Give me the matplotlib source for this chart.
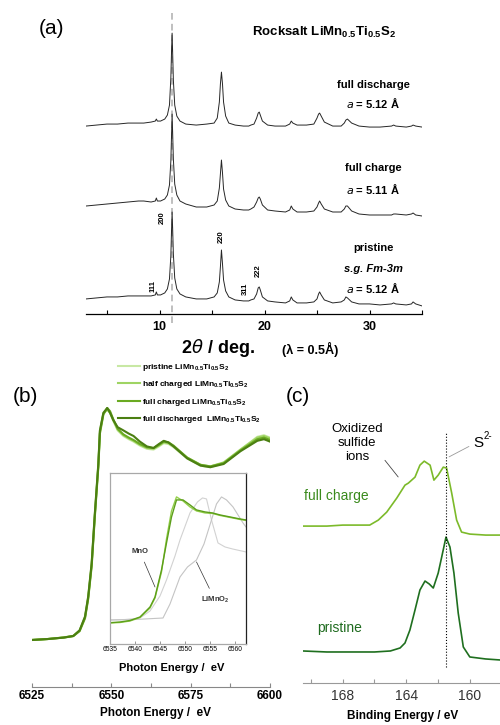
import matplotlib
matplotlib.use("Agg")
import matplotlib.pyplot as plt
from matplotlib.ticker import FixedLocator

plt.rcParams["font.family"] = ["Liberation Sans", "DejaVu Sans"]
plt.rcParams["mathtext.default"] = "regular"

# ---------------- (a) XRD, offset patterns ----------------
two_theta = [3, 4, 5, 6, 7, 8, 8.5, 9.2, 9.6, 9.7,
             9.8, 10.1, 10.5, 10.75, 10.95, 11.08, 11.15, 11.2, 11.25, 11.32,
             11.45, 11.65, 11.95, 12.5, 13.5, 14.5, 15.2, 15.5, 15.7, 15.8,
             15.9, 16.0, 16.1, 16.3, 16.6, 17.2, 18, 18.5, 18.7, 19.0,
             19.25, 19.4, 19.5, 19.6, 19.8, 20.3, 21, 22, 22.4, 22.55,
             22.7, 23.1, 24, 24.7, 25.0, 25.15, 25.25, 25.4, 25.7, 26.5,
             27.3, 27.6, 27.75, 27.9, 28.3, 29, 30, 31, 32.1, 32.3,
             32.5, 33.5, 34.0, 34.15, 34.4, 35]
xrd_pristine = [15, 16, 17, 17, 18, 18, 18, 18, 19, 22,
                19, 19, 21, 25, 35, 58, 85, 102, 86, 60,
                36, 25, 20, 17, 15, 15, 17, 21, 32, 47,
                64, 50, 34, 23, 17, 14, 13, 13, 14, 15,
                20, 26, 27, 24, 17, 13, 12, 11, 13, 17,
                14, 11, 11, 12, 15, 20, 22, 19, 14, 11,
                12, 14, 17, 16, 12, 10, 10, 9, 10, 11,
                10, 9, 10, 12, 10, 8]
xrd_charge = [108, 109, 110, 111, 112, 113, 113, 112, 113, 116,
              113, 113, 115, 119, 129, 153, 180, 200, 182, 155,
              130, 119, 113, 110, 107, 107, 109, 113, 126, 140,
              154, 141, 125, 114, 108, 105, 104, 104, 105, 107,
              112, 116, 117, 115, 109, 104, 103, 102, 104, 108,
              105, 102, 102, 103, 107, 111, 113, 110, 105, 102,
              102, 105, 108, 108, 103, 100, 99, 99, 99, 100,
              100, 99, 100, 101, 99, 98]
xrd_discharge = [188, 189, 190, 190, 191, 191, 191, 192, 193, 195,
                 193, 193, 195, 199, 209, 236, 264, 281, 262, 234,
                 209, 198, 193, 190, 189, 190, 191, 196, 212, 230,
                 242, 230, 212, 198, 191, 189, 188, 188, 189, 190,
                 196, 201, 202, 199, 193, 189, 188, 188, 190, 193,
                 191, 189, 189, 190, 196, 200, 201, 198, 192, 188,
                 188, 191, 194, 195, 191, 188, 187, 187, 188, 189,
                 188, 187, 188, 189, 188, 187]
hkl_labels = ["111", "200", "220", "311", "222"]
hkl_pos = [9.4, 10.25, 15.87, 18.2, 19.45]
hkl_y = [22, 90, 71, 19, 37]

# ---------------- (b) Mn K-edge XANES ----------------
energy = [6525, 6530, 6535, 6538, 6540, 6541.7, 6542.7, 6543.8, 6544.8, 6545.9, 6546.4,
          6547.5, 6548.7, 6549.6, 6550.6, 6552, 6553.8, 6555.5, 6557, 6559, 6561.2, 6563.3,
          6565, 6566.5, 6568, 6569.6, 6573.9, 6578.1, 6581.2, 6585.4, 6590.7, 6596, 6598.1, 6600]
xas_pristine = [0.0, 0.006, 0.016, 0.026, 0.06, 0.145, 0.268, 0.475, 0.785, 1.095, 1.305,
                1.42, 1.445, 1.42, 1.37, 1.31, 1.275, 1.255, 1.24, 1.215, 1.195, 1.19,
                1.21, 1.23, 1.225, 1.205, 1.135, 1.09, 1.08, 1.105, 1.19, 1.27, 1.28, 1.265]
xas_half = [0.0, 0.006, 0.016, 0.025, 0.058, 0.14, 0.262, 0.47, 0.78, 1.09, 1.30,
            1.415, 1.44, 1.42, 1.375, 1.315, 1.28, 1.26, 1.245, 1.22, 1.2, 1.195,
            1.215, 1.235, 1.23, 1.21, 1.14, 1.095, 1.085, 1.11, 1.19, 1.265, 1.275, 1.26]
xas_charged = [0.0, 0.006, 0.015, 0.024, 0.055, 0.135, 0.255, 0.46, 0.77, 1.08, 1.29,
               1.41, 1.45, 1.43, 1.38, 1.32, 1.285, 1.265, 1.25, 1.225, 1.205, 1.2,
               1.22, 1.24, 1.235, 1.215, 1.14, 1.095, 1.085, 1.105, 1.185, 1.255, 1.265, 1.25]
xas_discharged = [0.0, 0.006, 0.015, 0.025, 0.06, 0.146, 0.27, 0.48, 0.79, 1.10, 1.31,
                  1.42, 1.45, 1.42, 1.375, 1.33, 1.31, 1.29, 1.275, 1.24, 1.21, 1.20,
                  1.225, 1.245, 1.235, 1.21, 1.135, 1.09, 1.08, 1.10, 1.18, 1.245, 1.255, 1.24]
xas_names = [r"pristine LiMn$_{0.5}$Ti$_{0.5}$S$_2$",
             r"half charged LiMn$_{0.5}$Ti$_{0.5}$S$_2$",
             r"full charged LiMn$_{0.5}$Ti$_{0.5}$S$_2$",
             r"full discharged  LiMn$_{0.5}$Ti$_{0.5}$S$_2$"]
xas_colors = ["#c8e8a4", "#9fd463", "#6aaa22", "#4b7f12"]

# inset (edge region + references)
inset_energy = [6535, 6537, 6539, 6541, 6543, 6544, 6545.3, 6546.3, 6547.3, 6548.3, 6549.6,
                6551, 6552.3, 6554, 6555.5, 6557, 6559, 6561, 6562.2]
inset_charged = [0.213, 0.22, 0.235, 0.27, 0.37, 0.47, 0.74, 1.01, 1.27, 1.44, 1.44,
                 1.39, 1.34, 1.32, 1.31, 1.29, 1.27, 1.25, 1.24]
inset_discharged = [0.21, 0.215, 0.23, 0.265, 0.36, 0.46, 0.72, 1.05, 1.33, 1.47, 1.43,
                    1.37, 1.33, 1.31, 1.305, 1.285, 1.265, 1.245, 1.235]
mno_energy = [6535, 6538, 6541, 6543, 6545, 6546.3, 6548, 6549, 6551, 6552.5, 6553.5,
              6554.3, 6555.3, 6556.6, 6558, 6559.5, 6562.2]
mno_abs = [0.24, 0.245, 0.26, 0.33, 0.48, 0.64, 0.88, 1.04, 1.31, 1.42, 1.46,
           1.45, 1.24, 1.01, 0.97, 0.95, 0.92]
limno2_energy = [6535, 6540, 6545.6, 6547, 6549, 6550.5, 6552.3, 6553.8, 6555.3, 6556.3,
                 6557.3, 6558.3, 6559.6, 6561.6, 6562.2]
limno2_abs = [0.24, 0.245, 0.26, 0.4, 0.67, 0.77, 0.84, 1.0, 1.24, 1.4,
              1.47, 1.44, 1.37, 1.21, 1.17]

# ---------------- (c) S 2p XPS ----------------
be_charge = [170.5, 169, 168, 167, 166.3, 165.76, 165.23, 164.6, 164.08, 163.87, 163.45, 163.14,
             162.87, 162.5, 162.26, 161.99, 161.67, 161.46, 161.14, 160.83, 160.52, 160.0, 159, 158.1]
xps_charge = [157, 157, 158, 158, 158, 163, 171, 185, 198, 200, 206, 218,
              222, 218, 203, 208, 216, 215, 190, 163, 151, 149, 148, 148]
be_pristine = [170.5, 169, 168, 167, 166, 165, 164.39, 164.08, 163.77, 163.45, 163.14, 162.82,
               162.55, 162.3, 161.99, 161.77, 161.5, 161.25, 161.0, 160.73, 160.41, 160.0, 159, 158.1]
xps_pristine = [32, 31, 31, 31, 31, 32, 35, 40, 53, 73, 93, 102,
                99, 95, 110, 126, 146, 136, 110, 70, 36, 26, 24, 23]
s2_be = 161.5


def fx(px):
    return px / 500


def fy(py):
    return 1 - py / 725


fig = plt.figure(figsize=(5, 7.25), dpi=100)

# ===== (a) =====
ax = fig.add_axes([0.172, 0.567, 0.672, 0.419])
ax.axvline(11.2, ymin=-0.03, ymax=1, color="#b4b4b4", ls=(0, (4, 2.5)), lw=1.2,
           clip_on=False, zorder=1)
for ys in (xrd_pristine, xrd_charge, xrd_discharge):
    ax.plot(two_theta, ys, color="#262626", lw=0.7, zorder=2)
for lab, xp, yp in zip(hkl_labels, hkl_pos, hkl_y):
    ax.text(xp, yp, lab, rotation=90, fontsize=5.5, fontweight="bold",
            ha="center", va="bottom")
ax.set_xlim(3, 35)
ax.set_ylim(0, 304)
for s in ("left", "right", "top"):
    ax.spines[s].set_visible(False)
ax.spines["bottom"].set_linewidth(0.9)
ax.set_yticks([])
ax.set_xticks([10, 20, 30])
ax.xaxis.set_minor_locator(FixedLocator([5, 15, 25, 35]))
ax.tick_params(axis="x", which="both", direction="in", length=3, width=0.8, pad=5)
ax.tick_params(axis="x", labelsize=9)
for t in ax.get_xticklabels():
    t.set_fontweight("bold")

fig.text(fx(51), fy(29), "(a)", fontsize=15, ha="center", va="center")
fig.text(fx(324), fy(32), r"Rocksalt LiMn$_{0.5}$Ti$_{0.5}$S$_2$", fontsize=9.5,
         fontweight="bold", ha="center", va="center")
fig.text(fx(373), fy(85), "full discharge", fontsize=8, fontweight="bold", ha="center", va="center")
fig.text(fx(373), fy(103), r"$\mathit{a}$ = 5.12 Å", fontsize=8, fontweight="bold", ha="center", va="center")
fig.text(fx(373), fy(168), "full charge", fontsize=8, fontweight="bold", ha="center", va="center")
fig.text(fx(373), fy(189), r"$\mathit{a}$ = 5.11 Å", fontsize=8, fontweight="bold", ha="center", va="center")
fig.text(fx(373), fy(248), "pristine", fontsize=8, fontweight="bold", ha="center", va="center")
fig.text(fx(373), fy(269), "s.g. Fm-3m", fontsize=8, fontweight="bold", style="italic",
         ha="center", va="center")
fig.text(fx(373), fy(288), r"$\mathit{a}$ = 5.12 Å", fontsize=8, fontweight="bold", ha="center", va="center")
fig.text(fx(218), fy(348), r"2$\mathit{\theta}$ / deg.", fontsize=13, fontweight="bold",
         ha="center", va="center")
fig.text(fx(310), fy(349), "(λ = 0.5Å)", fontsize=9, fontweight="bold", ha="center", va="center")

# ===== (b) =====
axb = fig.add_axes([0.064, 0.0524, 0.476, 0.4166])
for ys, c, n in zip((xas_pristine, xas_half, xas_charged, xas_discharged), xas_colors, xas_names):
    axb.plot(energy, ys, color=c, lw=1.5, label=n)
axb.set_xlim(6525, 6600)
axb.set_ylim(-0.294, 1.594)
for s in ("left", "right", "top"):
    axb.spines[s].set_visible(False)
axb.spines["bottom"].set_color("#888888")
axb.set_yticks([])
axb.set_xticks([6525, 6550, 6575, 6600])
axb.xaxis.set_minor_locator(FixedLocator([6537.5, 6562.5, 6587.5]))
axb.tick_params(axis="x", which="both", direction="in", length=3, width=0.8,
                color="#888888", pad=2, labelsize=8.5)
for t in axb.get_xticklabels():
    t.set_fontweight("bold")
leg = axb.legend(loc="upper left", bbox_to_anchor=(fx(118), fy(362)),
                 bbox_transform=fig.transFigure, frameon=False, fontsize=6,
                 handlelength=2.6, handletextpad=0.3, labelspacing=0.75,
                 borderpad=0, borderaxespad=0)
for t in leg.get_texts():
    t.set_fontweight("bold")
fig.text(fx(25), fy(397), "(b)", fontsize=15, ha="center", va="center")
fig.text(fx(155), fy(713), "Photon Energy /  eV", fontsize=8.5, fontweight="bold",
         ha="center", va="center")

# inset
axi = fig.add_axes([0.22, 0.1117, 0.272, 0.236])
axi.plot(mno_energy, mno_abs, color="#d2d2d2", lw=0.8)
axi.plot(limno2_energy, limno2_abs, color="#c4c4c4", lw=0.8)
axi.plot(inset_energy, inset_discharged, color="#93cf4a", lw=1.0)
axi.plot(inset_energy, inset_charged, color="#5c9e1a", lw=1.0)
axi.set_xlim(6535, 6562.2)
axi.set_ylim(0, 1.71)
axi.set_yticks([])
axi.set_xticks([6535, 6540, 6545, 6550, 6555, 6560])
axi.tick_params(axis="x", direction="in", length=2, width=0.6, color="#888888",
                pad=1.5, labelsize=4.8)
for s in ("left", "top", "bottom"):
    axi.spines[s].set_color("#a8a8a8")
    axi.spines[s].set_linewidth(0.9)
axi.spines["right"].set_color("#222222")
axi.spines["right"].set_linewidth(0.9)
axi.annotate("MnO", xy=(6544, 0.57), xytext=(6541, 0.92), fontsize=5.5, fontweight="bold",
             ha="center", va="center", color="#333333",
             arrowprops=dict(arrowstyle="-", lw=0.5, color="#333333", shrinkA=3, shrinkB=0))
axi.annotate(r"LiMnO$_2$", xy=(6552.3, 0.82), xytext=(6556, 0.44), fontsize=5.5,
             fontweight="bold", ha="center", va="center", color="#333333",
             arrowprops=dict(arrowstyle="-", lw=0.5, color="#333333", shrinkA=3, shrinkB=0))
fig.text(fx(172), fy(668), "Photon Energy /  eV", fontsize=8, fontweight="bold",
         ha="center", va="center")

# ===== (c) =====
axc = fig.add_axes([0.606, 0.058, 0.394, 0.39])
axc.plot(be_charge, xps_charge, color="#7cba2a", lw=1.2)
axc.plot(be_pristine, xps_pristine, color="#1f6f1f", lw=1.2)
axc.plot([s2_be, s2_be], [16, 251], color="black", ls=":", lw=0.8)
axc.set_xlim(170.5, 158.1)
axc.set_ylim(0, 283)
for s in ("left", "right", "top"):
    axc.spines[s].set_visible(False)
axc.spines["bottom"].set_color("#999999")
axc.set_yticks([])
axc.set_xticks([168, 164, 160])
axc.xaxis.set_minor_locator(FixedLocator([170, 166, 162, 158]))
axc.tick_params(axis="x", which="both", direction="in", length=3, width=0.8,
                color="#999999", pad=4, labelsize=10, labelcolor="#333333")
axc.annotate("", xy=(164.4, 204), xytext=(165.45, 225),
             arrowprops=dict(arrowstyle="-", lw=0.6, color="#444444"))
axc.annotate("", xy=(161.46, 225), xytext=(159.9, 238),
             arrowprops=dict(arrowstyle="-", lw=0.6, color="#999999"))
fig.text(fx(298), fy(397), "(c)", fontsize=15, ha="center", va="center")
fig.text(fx(357), fy(443), "Oxidized\nsulfide\nions", fontsize=9.5, ha="center",
         va="center", linespacing=1.25)
fig.text(fx(478), fy(443), "S", fontsize=11, ha="center", va="center")
fig.text(fx(484), fy(436), "2-", fontsize=7, ha="left", va="center")
fig.text(fx(336), fy(496), "full charge", fontsize=10, color="#3a8a1c", ha="center", va="center")
fig.text(fx(340), fy(628), "pristine", fontsize=10, color="#1f6b1f", ha="center", va="center")
fig.text(fx(403), fy(716), "Binding Energy / eV", fontsize=8.5, fontweight="bold",
         ha="center", va="center")

fig.savefig("out.png", dpi=100)
